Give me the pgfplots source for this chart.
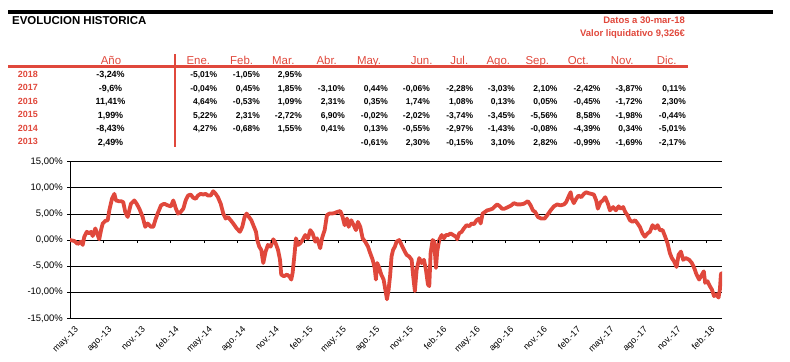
\documentclass[border=0pt]{standalone}
\usepackage{pgfplots}
\pgfplotsset{compat=1.18}
\usepackage{pgfplotstable}
\usepackage{fontspec}
\setmainfont{Liberation Sans}
\definecolor{myred}{RGB}{224,72,60}

\pgfplotstableread{
m v
0.00 0.00
0.39 -0.19
0.69 -0.76
0.99 -0.32
1.14 -0.95
1.28 0.63
1.50 1.57
1.73 1.27
1.88 1.57
2.03 0.76
2.27 2.22
2.48 0.95
2.62 0.13
2.78 1.89
2.93 3.16
3.16 3.66
3.38 3.79
3.52 5.68
3.76 7.90
3.97 8.84
4.12 7.58
4.36 7.44
4.57 7.44
4.77 7.25
4.95 5.36
5.17 4.41
5.31 5.68
5.46 6.95
5.76 7.58
5.97 6.95
6.21 6.00
6.51 4.41
6.74 2.52
6.96 3.16
7.25 2.52
7.46 2.52
7.64 3.79
7.85 5.06
8.15 6.63
8.44 6.95
8.75 6.63
9.04 6.44
9.25 7.58
9.49 6.00
9.67 5.06
9.91 5.36
10.15 6.00
10.36 7.58
10.57 8.52
10.81 8.71
11.04 8.09
11.26 7.90
11.46 8.52
11.70 8.84
11.94 8.71
12.15 8.84
12.36 8.52
12.60 8.52
12.83 9.34
13.05 8.84
13.25 8.20
13.50 6.95
13.73 5.06
13.94 4.11
14.15 4.41
14.39 3.79
14.62 3.16
14.93 2.22
15.22 1.57
15.43 2.52
15.64 4.41
15.82 5.06
16.03 4.41
16.24 3.79
16.48 2.52
16.66 1.57
16.77 0.00
16.95 -1.27
17.13 -1.89
17.31 -4.41
17.52 -2.22
17.73 -0.95
17.97 -1.27
18.21 0.13
18.42 -0.63
18.63 -1.89
18.81 -3.79
18.92 -6.63
19.16 -6.95
19.43 -6.63
19.64 -6.95
19.82 -7.58
19.94 -6.31
20.12 -2.52
20.24 0.32
20.42 -0.95
20.62 -0.63
20.84 0.00
21.07 0.95
21.31 0.32
21.52 1.89
21.73 1.27
21.97 -0.32
22.12 0.32
22.27 -0.63
22.41 -1.57
22.57 0.32
22.81 1.89
23.01 4.73
23.22 5.06
23.46 5.06
23.70 5.17
23.91 5.36
24.21 5.55
24.42 4.41
24.60 2.84
24.81 4.11
24.96 2.52
25.19 3.79
25.41 2.84
25.61 1.89
25.79 3.47
26.00 2.52
26.21 0.32
26.44 -0.32
26.69 -1.27
26.89 -2.52
27.11 -3.79
27.29 -5.36
27.40 -7.58
27.52 -4.41
27.70 -5.36
27.88 -6.63
28.09 -7.58
28.24 -9.47
28.39 -11.36
28.54 -9.47
28.68 -6.63
28.80 -3.16
28.94 -1.89
29.10 -1.27
29.25 -0.32
29.49 0.00
29.70 -0.95
29.91 -1.89
30.15 -2.84
30.38 -3.16
30.60 -3.79
30.74 -6.95
30.89 -9.79
31.05 -5.68
31.28 -3.47
31.49 -4.41
31.70 -3.79
31.88 -5.68
32.06 -8.52
32.18 -8.84
32.30 -2.52
32.48 0.00
32.62 -0.32
32.78 -5.36
32.89 -2.22
33.07 0.00
33.29 0.95
33.49 0.32
33.67 0.95
33.88 0.95
34.09 1.27
34.32 0.95
34.57 0.63
34.68 0.13
34.86 1.27
35.08 1.57
35.28 2.22
35.52 2.84
35.76 2.65
35.97 3.16
36.18 3.03
36.42 3.79
36.65 4.11
36.78 3.16
36.96 5.06
37.16 5.36
37.37 5.68
37.61 5.81
37.85 6.00
38.06 6.44
38.26 6.82
38.51 6.44
38.69 6.00
38.93 6.00
39.22 6.31
39.52 6.63
39.76 7.06
40.06 6.82
40.36 6.82
40.66 6.95
41.01 7.44
41.26 6.63
41.46 5.68
41.67 5.36
41.91 4.41
42.20 4.11
42.51 4.11
42.74 4.73
43.05 5.68
43.34 6.44
43.64 6.82
43.94 6.63
44.24 6.82
44.44 7.25
44.66 8.33
44.84 9.15
44.95 7.90
45.13 7.06
45.34 7.90
45.55 8.52
45.79 8.20
46.03 8.84
46.23 9.15
46.45 8.96
46.68 8.84
46.92 8.71
47.13 7.58
47.28 6.00
47.52 7.25
47.73 7.58
47.94 8.20
48.18 6.95
48.36 5.68
48.65 6.31
48.89 5.68
49.14 6.44
49.34 6.00
49.55 6.31
49.73 5.36
49.94 4.73
50.15 3.79
50.39 3.47
50.62 3.79
50.84 3.16
51.04 2.52
51.28 1.27
51.49 0.63
51.73 1.27
51.94 1.57
52.18 2.84
52.41 2.22
52.63 2.84
52.83 1.89
53.08 1.89
53.31 0.63
53.52 -0.63
53.73 -2.52
53.91 -3.47
54.11 -4.11
54.33 -5.17
54.51 -2.84
54.72 -2.22
54.92 -3.79
55.16 -3.47
55.46 -3.79
55.70 -4.41
55.91 -5.36
56.12 -6.63
56.35 -7.58
56.60 -6.63
56.77 -6.00
56.89 -8.20
57.10 -7.90
57.31 -8.84
57.49 -9.47
57.69 -10.74
57.91 -10.42
58.09 -11.04
58.21 -9.47
58.30 -6.63
58.36 -6.31
}\serie

\newcommand{\valfont}{\bfseries\fontsize{8.5}{10}\selectfont}
\newcommand{\rowvals}[3]{%
  \foreach \v [count=\i from #2] in {#3} {%
    \pgfmathsetmacro\xx{{217.3,260,302,345,388,430,473.3,515,557.7,600.7,642.7,686}[\i-1]}%
    \node[anchor=base east, inner sep=0pt, font=\valfont] at (\xx,#1) {\v};%
  }%
}
\newcommand{\yearrow}[3]{%
  \node[anchor=base west, inner sep=0pt, text=myred, font=\bfseries\fontsize{9}{10}\selectfont] at (17.7,#1+0.5) {#2};%
  \node[anchor=base, inner sep=0pt, font=\bfseries\fontsize{9}{10}\selectfont] at (110.5,#1) {#3};%
}

\begin{document}
\begin{tikzpicture}
\begin{scope}[x=1bp,y=1bp]
\path[use as bounding box] (0,0) rectangle (790,361);
% header area
\draw[line width=3.3bp] (8,349) -- (773,349);
\node[anchor=base west, inner sep=0pt, font=\bfseries\fontsize{11.5}{13}\selectfont] at (12,337) {EVOLUCION HISTORICA};
\node[anchor=base east, inner sep=0pt, text=myred, font=\bfseries\fontsize{9.5}{11}\selectfont] at (685,337.7) {Datos a 30-mar-18};
\node[anchor=base east, inner sep=0pt, text=myred, font=\bfseries\fontsize{9.5}{11}\selectfont] at (685,325) {Valor liquidativo 9,326€};
% table headers
\foreach \h/\x in {Año/111, Ene./198.3, Feb./241.7, Mar./283.3, Abr./326.7, May./369, Jun./421.7, Jul./459.3, Ago./498.3, Sep./537.3, Oct./578.3, Nov./622.3, Dic./666.7}
  \node[anchor=base, inner sep=0pt, text=myred, font=\fontsize{11.5}{12}\selectfont] at (\x,296.5) {\h};
\draw[myred, line width=3bp] (8,294.3) -- (688,294.3);
\draw[myred, line width=2bp] (175,307) -- (175,214);
% rows
\yearrow{283.5}{2018}{-3,24\%}
\rowvals{283.5}{1}{{-5,01\%},{-1,05\%},{2,95\%}}
\yearrow{270}{2017}{-9,6\%}
\rowvals{270}{1}{{-0,04\%},{0,45\%},{1,85\%},{-3,10\%},{0,44\%},{-0,06\%},{-2,28\%},{-3,03\%},{2,10\%},{-2,42\%},{-3,87\%},{0,11\%}}
\yearrow{256.5}{2016}{11,41\%}
\rowvals{256.5}{1}{{4,64\%},{-0,53\%},{1,09\%},{2,31\%},{0,35\%},{1,74\%},{1,08\%},{0,13\%},{0,05\%},{-0,45\%},{-1,72\%},{2,30\%}}
\yearrow{243}{2015}{1,99\%}
\rowvals{243}{1}{{5,22\%},{2,31\%},{-2,72\%},{6,90\%},{-0,02\%},{-2,02\%},{-3,74\%},{-3,45\%},{-5,56\%},{8,58\%},{-1,98\%},{-0,44\%}}
\yearrow{229.5}{2014}{-8,43\%}
\rowvals{229.5}{1}{{4,27\%},{-0,68\%},{1,55\%},{0,41\%},{0,13\%},{-0,55\%},{-2,97\%},{-1,43\%},{-0,08\%},{-4,39\%},{0,34\%},{-5,01\%}}
\yearrow{216}{2013}{2,49\%}
\rowvals{216}{5}{{-0,61\%},{2,30\%},{-0,15\%},{3,10\%},{2,82\%},{-0,99\%},{-1,69\%},{-2,17\%}}
\end{scope}
% chart
\begin{axis}[
  at={(70bp,42.7bp)}, anchor=south west,
  scale only axis, width=652bp, height=156.6bp,
  xmin=0, xmax=58.4, ymin=-15, ymax=15,
  axis x line=bottom, axis y line=left, axis line style={-, black, line width=0.8bp},
  ytick={-15,-10,-5,0,5,10,15},
  yticklabels={{-15,00\%},{-10,00\%},{-5,00\%},{0,00\%},{5,00\%},{10,00\%},{15,00\%}},
  xtick={0,3,...,57},
  xticklabels={may.-13,ago.-13,nov.-13,feb.-14,may.-14,ago.-14,nov.-14,feb.-15,may.-15,ago.-15,nov.-15,feb.-16,may.-16,ago.-16,nov.-16,feb.-17,may.-17,ago.-17,nov.-17,feb.-18},
  xmajorgrids=false, ymajorgrids=true, grid style={black, line width=0.8bp},
  tick align=outside, major tick length=3bp,
  x tick style={draw=none}, y tick style={black, line width=0.8bp},
  yticklabel style={font=\fontsize{9.5}{10}\selectfont, inner sep=0pt, xshift=-4bp},
  xticklabel style={font=\fontsize{9}{10}\selectfont, rotate=45, anchor=north east, inner sep=0pt, yshift=-6bp},
]
\addplot[myred, line width=3.8bp, line join=round, line cap=round] table[x=m, y=v] {\serie};
\end{axis}
% tick marks on the zero line
\begin{axis}[
  at={(70bp,42.7bp)}, anchor=south west,
  scale only axis, width=652bp, height=156.6bp,
  xmin=0, xmax=58.4, ymin=-15, ymax=15,
  axis x line=middle, axis y line=none, axis line style={-, draw=none},
  xtick={3,6,...,57}, xticklabels={}, ytick=\empty,
  tick align=outside, major tick length=3bp,
  x tick style={black, line width=0.8bp},
]
\end{axis}
\end{tikzpicture}
\end{document}
